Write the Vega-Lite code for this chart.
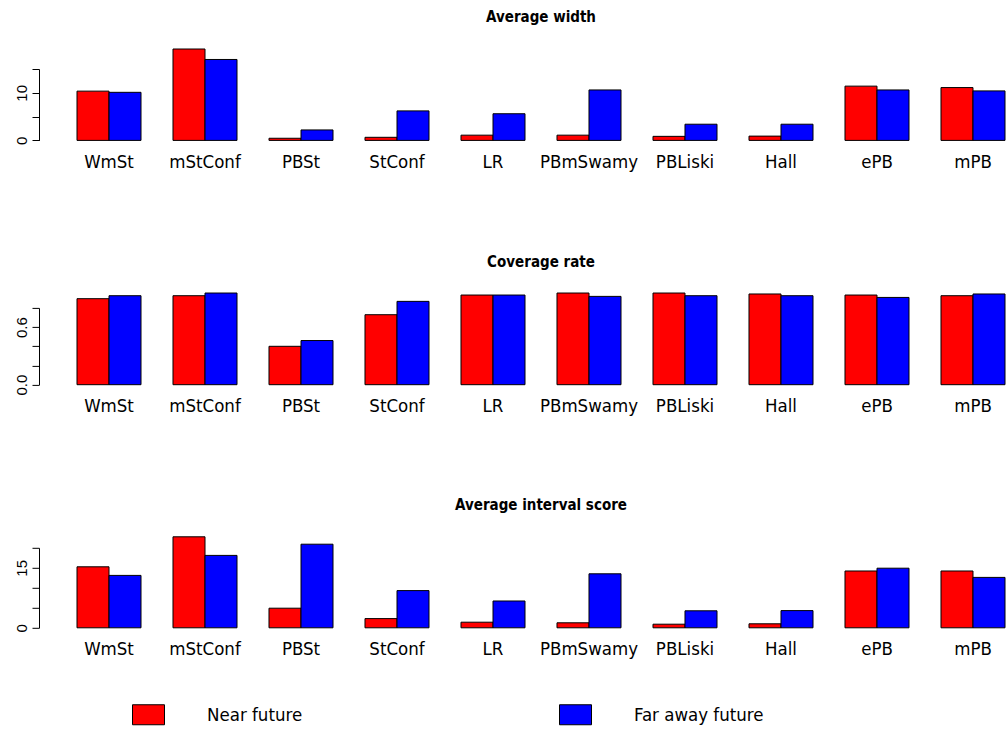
{
  "$schema": "https://vega.github.io/schema/vega-lite/v6.json",
  "padding": {"left": 14, "top": 9, "right": 0, "bottom": 0},
  "bounds": "flush",
  "spacing": 162.9,
  "data": {"values": [
    {"panel": "w", "method": "WmSt", "Near future": 10.35, "Far away future": 10.1},
    {"panel": "w", "method": "mStConf", "Near future": 19.2, "Far away future": 17.0},
    {"panel": "w", "method": "PBSt", "Near future": 0.45, "Far away future": 2.2},
    {"panel": "w", "method": "StConf", "Near future": 0.65, "Far away future": 6.2},
    {"panel": "w", "method": "LR", "Near future": 1.1, "Far away future": 5.6},
    {"panel": "w", "method": "PBmSwamy", "Near future": 1.1, "Far away future": 10.6},
    {"panel": "w", "method": "PBLiski", "Near future": 0.85, "Far away future": 3.4},
    {"panel": "w", "method": "Hall", "Near future": 0.9, "Far away future": 3.4},
    {"panel": "w", "method": "ePB", "Near future": 11.4, "Far away future": 10.6},
    {"panel": "w", "method": "mPB", "Near future": 11.1, "Far away future": 10.4},
    {"panel": "c", "method": "WmSt", "Near future": 0.896, "Far away future": 0.927},
    {"panel": "c", "method": "mStConf", "Near future": 0.927, "Far away future": 0.955},
    {"panel": "c", "method": "PBSt", "Near future": 0.40, "Far away future": 0.46},
    {"panel": "c", "method": "StConf", "Near future": 0.729, "Far away future": 0.868},
    {"panel": "c", "method": "LR", "Near future": 0.934, "Far away future": 0.934},
    {"panel": "c", "method": "PBmSwamy", "Near future": 0.955, "Far away future": 0.920},
    {"panel": "c", "method": "PBLiski", "Near future": 0.955, "Far away future": 0.927},
    {"panel": "c", "method": "Hall", "Near future": 0.945, "Far away future": 0.927},
    {"panel": "c", "method": "ePB", "Near future": 0.934, "Far away future": 0.909},
    {"panel": "c", "method": "mPB", "Near future": 0.927, "Far away future": 0.945},
    {"panel": "s", "method": "WmSt", "Near future": 15.25, "Far away future": 13.1},
    {"panel": "s", "method": "mStConf", "Near future": 22.75, "Far away future": 18.1},
    {"panel": "s", "method": "PBSt", "Near future": 4.9, "Far away future": 20.9},
    {"panel": "s", "method": "StConf", "Near future": 2.3, "Far away future": 9.3},
    {"panel": "s", "method": "LR", "Near future": 1.4, "Far away future": 6.7},
    {"panel": "s", "method": "PBmSwamy", "Near future": 1.25, "Far away future": 13.5},
    {"panel": "s", "method": "PBLiski", "Near future": 0.9, "Far away future": 4.25},
    {"panel": "s", "method": "Hall", "Near future": 1.0, "Far away future": 4.3},
    {"panel": "s", "method": "ePB", "Near future": 14.2, "Far away future": 14.9},
    {"panel": "s", "method": "mPB", "Near future": 14.2, "Far away future": 12.6}
  ]},
  "transform": [{"fold": ["Near future", "Far away future"], "as": ["horizon", "value"]}],
  "vconcat": [
    {
      "width": 928,
      "height": 71.4,
      "title": {"text": "Average width", "offset": 24, "frame": "group"},
      "transform": [{"filter": "datum.panel == 'w'"}],
      "mark": {"type": "bar", "stroke": "black", "strokeWidth": 1},
      "encoding": {
        "x": {"field": "method", "type": "nominal", "sort": ["WmSt", "mStConf", "PBSt", "StConf", "LR", "PBmSwamy", "PBLiski", "Hall", "ePB", "mPB"], "scale": {"paddingInner": 0.33333, "paddingOuter": 0}, "axis": {"title": null}},
        "xOffset": {"field": "horizon", "type": "nominal", "sort": ["Near future", "Far away future"], "scale": {"paddingInner": 0, "paddingOuter": 0}},
        "y": {"field": "value", "type": "quantitative", "scale": {"domain": [0, 15], "nice": false}, "axis": {"title": null, "values": [0, 5, 10, 15], "labelExpr": "datum.value == 0 || datum.value == 10 ? datum.label : ''"}},
        "color": {"field": "horizon", "type": "nominal", "sort": ["Near future", "Far away future"], "scale": {"domain": ["Near future", "Far away future"], "range": ["#ff0000", "#0000ff"]}, "legend": {"orient": "none", "legendX": 61, "legendY": 635, "direction": "horizontal", "title": null}}
      }
    },
    {
      "width": 928,
      "height": 80.8,
      "title": {"text": "Coverage rate", "offset": 23, "frame": "group"},
      "transform": [{"filter": "datum.panel == 'c'"}],
      "mark": {"type": "bar", "stroke": "black", "strokeWidth": 1},
      "encoding": {
        "x": {"field": "method", "type": "nominal", "sort": ["WmSt", "mStConf", "PBSt", "StConf", "LR", "PBmSwamy", "PBLiski", "Hall", "ePB", "mPB"], "scale": {"paddingInner": 0.33333, "paddingOuter": 0}, "axis": {"title": null}},
        "xOffset": {"field": "horizon", "type": "nominal", "sort": ["Near future", "Far away future"], "scale": {"paddingInner": 0, "paddingOuter": 0}},
        "y": {"field": "value", "type": "quantitative", "scale": {"domain": [0, 0.8], "nice": false, "range": [80.8, 4]}, "axis": {"title": null, "values": [0, 0.2, 0.4, 0.6, 0.8], "format": ".1f", "labelExpr": "datum.value == 0 || datum.value == 0.6 ? datum.label : ''"}},
        "color": {"field": "horizon", "type": "nominal", "sort": ["Near future", "Far away future"]}
      }
    },
    {
      "width": 928,
      "height": 80,
      "title": {"text": "Average interval score", "offset": 23, "frame": "group"},
      "transform": [{"filter": "datum.panel == 's'"}],
      "mark": {"type": "bar", "stroke": "black", "strokeWidth": 1},
      "encoding": {
        "x": {"field": "method", "type": "nominal", "sort": ["WmSt", "mStConf", "PBSt", "StConf", "LR", "PBmSwamy", "PBLiski", "Hall", "ePB", "mPB"], "scale": {"paddingInner": 0.33333, "paddingOuter": 0}, "axis": {"title": null}},
        "xOffset": {"field": "horizon", "type": "nominal", "sort": ["Near future", "Far away future"], "scale": {"paddingInner": 0, "paddingOuter": 0}},
        "y": {"field": "value", "type": "quantitative", "scale": {"domain": [0, 20], "nice": false}, "axis": {"title": null, "values": [0, 5, 10, 15, 20], "labelExpr": "datum.value == 0 || datum.value == 15 ? datum.label : ''"}},
        "color": {"field": "horizon", "type": "nominal", "sort": ["Near future", "Far away future"]}
      }
    }
  ],
  "resolve": {"scale": {"color": "shared"}},
  "config": {
    "view": {"stroke": null},
    "background": "white",
    "axis": {"grid": false, "domainColor": "black", "tickColor": "black", "labelColor": "black", "labelOverlap": false},
    "axisX": {"domain": false, "ticks": false, "tickSize": 0, "labelAngle": 0, "labelPadding": 21, "labelBaseline": "middle", "labelFont": "'Liberation Sans Narrow', 'Arial Narrow', 'DejaVu Sans Condensed', 'Noto Sans Condensed', 'Roboto Condensed', 'Liberation Sans', sans-serif", "labelFontSize": 18.5},
    "axisY": {"offset": 38, "tickSize": 7, "labelAngle": -90, "labelAlign": "center", "labelBaseline": "alphabetic", "labelPadding": 6, "labelFont": "Liberation Sans", "labelFontSize": 15, "domainWidth": 1, "tickWidth": 1},
    "title": {"font": "'Liberation Sans Narrow', 'Arial Narrow', 'DejaVu Sans Condensed', 'Noto Sans Condensed', 'Roboto Condensed', 'Liberation Sans', sans-serif", "fontWeight": "bold", "fontSize": 15, "color": "black", "anchor": "middle", "frame": "group", "baseline": "alphabetic"},
    "legend": {"padding": 0, "symbolType": "M-1.6,-1L1.6,-1L1.6,1L-1.6,1Z", "symbolSize": 400, "symbolStrokeColor": "black", "symbolStrokeWidth": 1, "symbolOpacity": 1, "labelFont": "'Liberation Sans Narrow', 'Arial Narrow', 'DejaVu Sans Condensed', 'Noto Sans Condensed', 'Roboto Condensed', 'Liberation Sans', sans-serif", "labelFontSize": 18.5, "labelColor": "black", "labelOffset": 48, "columnPadding": 254}
  }
}
